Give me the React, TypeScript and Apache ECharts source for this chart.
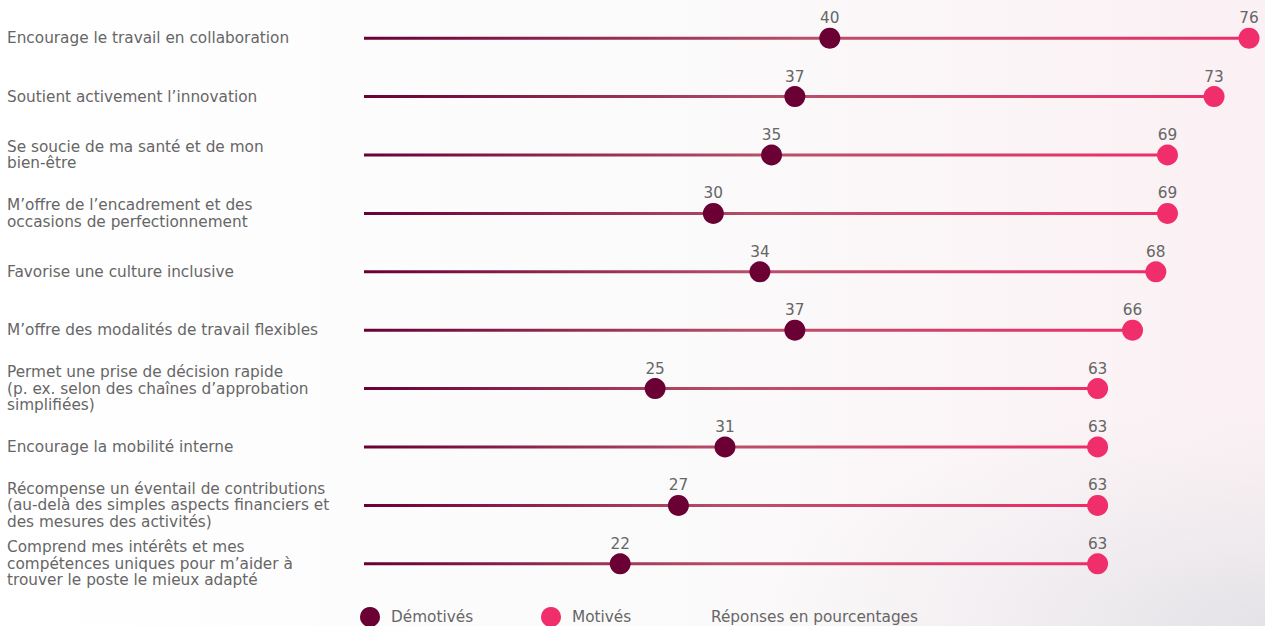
import React, { useEffect, useRef } from "react";
import * as echarts from "echarts";

const categories: string[] = [
  "Encourage le travail en collaboration",
  "Soutient activement l’innovation",
  "Se soucie de ma santé et de mon\nbien-être",
  "M’offre de l’encadrement et des\noccasions de perfectionnement",
  "Favorise une culture inclusive",
  "M’offre des modalités de travail flexibles",
  "Permet une prise de décision rapide\n(p. ex. selon des chaînes d’approbation\nsimplifiées)",
  "Encourage la mobilité interne",
  "Récompense un éventail de contributions\n(au-delà des simples aspects financiers et\ndes mesures des activités)",
  "Comprend mes intérêts et mes\ncompétences uniques pour m’aider à\ntrouver le poste le mieux adapté",
];

const demotivated: number[] = [40, 37, 35, 30, 34, 37, 25, 31, 27, 22];
const motivated: number[] = [76, 73, 69, 69, 68, 66, 63, 63, 63, 63];

const seriesNames = ["Démotivés", "Motivés"];
const noteText = "Réponses en pourcentages";

const DARK = "#6a0033";
const PINK = "#f02e6b";
const TEXT = "#666666";
const FONT = "'DejaVu Sans', 'Noto Sans', sans-serif";
const FS = 15.3;

export default function App() {
  const ref = useRef<HTMLDivElement>(null);

  useEffect(() => {
    if (!ref.current) return;
    const chart = echarts.init(ref.current, undefined, { renderer: "svg" });
    const labelStyle = {
      show: true,
      position: "top" as const,
      distance: 2,
      color: TEXT,
      fontSize: FS,
      fontFamily: FONT,
      formatter: (p: any) => String(p.value),
    };
    const legendText = {
      color: TEXT,
      fontSize: FS,
      fontFamily: FONT,
      padding: [0, 0, 0, 6],
    };
    chart.setOption({
      animation: false,
      backgroundColor: "#ffffff",
      graphic: [
        {
          type: "rect",
          silent: true,
          z: -10,
          shape: { x: 0, y: 0, width: 1265, height: 626 },
          style: {
            fill: new echarts.graphic.LinearGradient(0, 0, 1, 0, [
              { offset: 0, color: "#ffffff" },
              { offset: 0.55, color: "#fbfafb" },
              { offset: 1, color: "#fbf0f3" },
            ]),
          },
        },
        {
          type: "rect",
          silent: true,
          z: -9,
          shape: { x: 700, y: 380, width: 565, height: 246 },
          style: {
            fill: new echarts.graphic.RadialGradient(1, 1, 0.9, [
              { offset: 0, color: "rgba(225,225,230,0.9)" },
              { offset: 1, color: "rgba(235,235,238,0)" },
            ]),
          },
        },
        {
          type: "text",
          left: 711,
          top: 609,
          style: {
            text: noteText,
            fill: TEXT,
            fontSize: FS,
            fontFamily: FONT,
          },
        },
      ],
      legend: [
        {
          data: [seriesNames[0]],
          left: 360,
          top: 607,
          padding: 0,
          icon: "circle",
          itemWidth: 20,
          itemHeight: 20,
          textStyle: legendText,
          selectedMode: false,
        },
        {
          data: [seriesNames[1]],
          left: 541,
          top: 607,
          padding: 0,
          icon: "circle",
          itemWidth: 20,
          itemHeight: 20,
          textStyle: legendText,
          selectedMode: false,
        },
      ],
      grid: { left: 364, right: 16, top: 9, bottom: 33, containLabel: false },
      xAxis: {
        type: "value",
        min: 0,
        max: 76,
        show: false,
        splitLine: { show: false },
      },
      yAxis: {
        type: "category",
        data: categories,
        inverse: true,
        axisLine: { show: false },
        axisTick: { show: false },
        splitLine: { show: false },
        axisLabel: {
          align: "left",
          margin: 357,
          color: TEXT,
          fontSize: FS,
          lineHeight: 16.5,
          fontFamily: FONT,
        },
      },
      series: [
        {
          type: "bar",
          name: "line",
          data: motivated,
          barWidth: 3,
          silent: true,
          z: 1,
          itemStyle: {
            color: new echarts.graphic.LinearGradient(0, 0, 1, 0, [
              { offset: 0, color: "#6a0035" },
              { offset: 0.5, color: "#b8506a" },
              { offset: 1, color: "#ee2d68" },
            ]),
          },
        },
        {
          type: "scatter",
          name: seriesNames[0],
          data: demotivated,
          symbol: "circle",
          symbolSize: 21,
          z: 3,
          itemStyle: { color: DARK, opacity: 1 },
          label: labelStyle,
        },
        {
          type: "scatter",
          name: seriesNames[1],
          data: motivated,
          symbol: "circle",
          symbolSize: 21,
          z: 3,
          itemStyle: { color: PINK, opacity: 1 },
          label: labelStyle,
        },
      ],
    });
    return () => chart.dispose();
  }, []);

  return (
    <div
      ref={ref}
      style={{ position: "fixed", left: 0, top: 0, width: 1265, height: 626 }}
    />
  );
}
